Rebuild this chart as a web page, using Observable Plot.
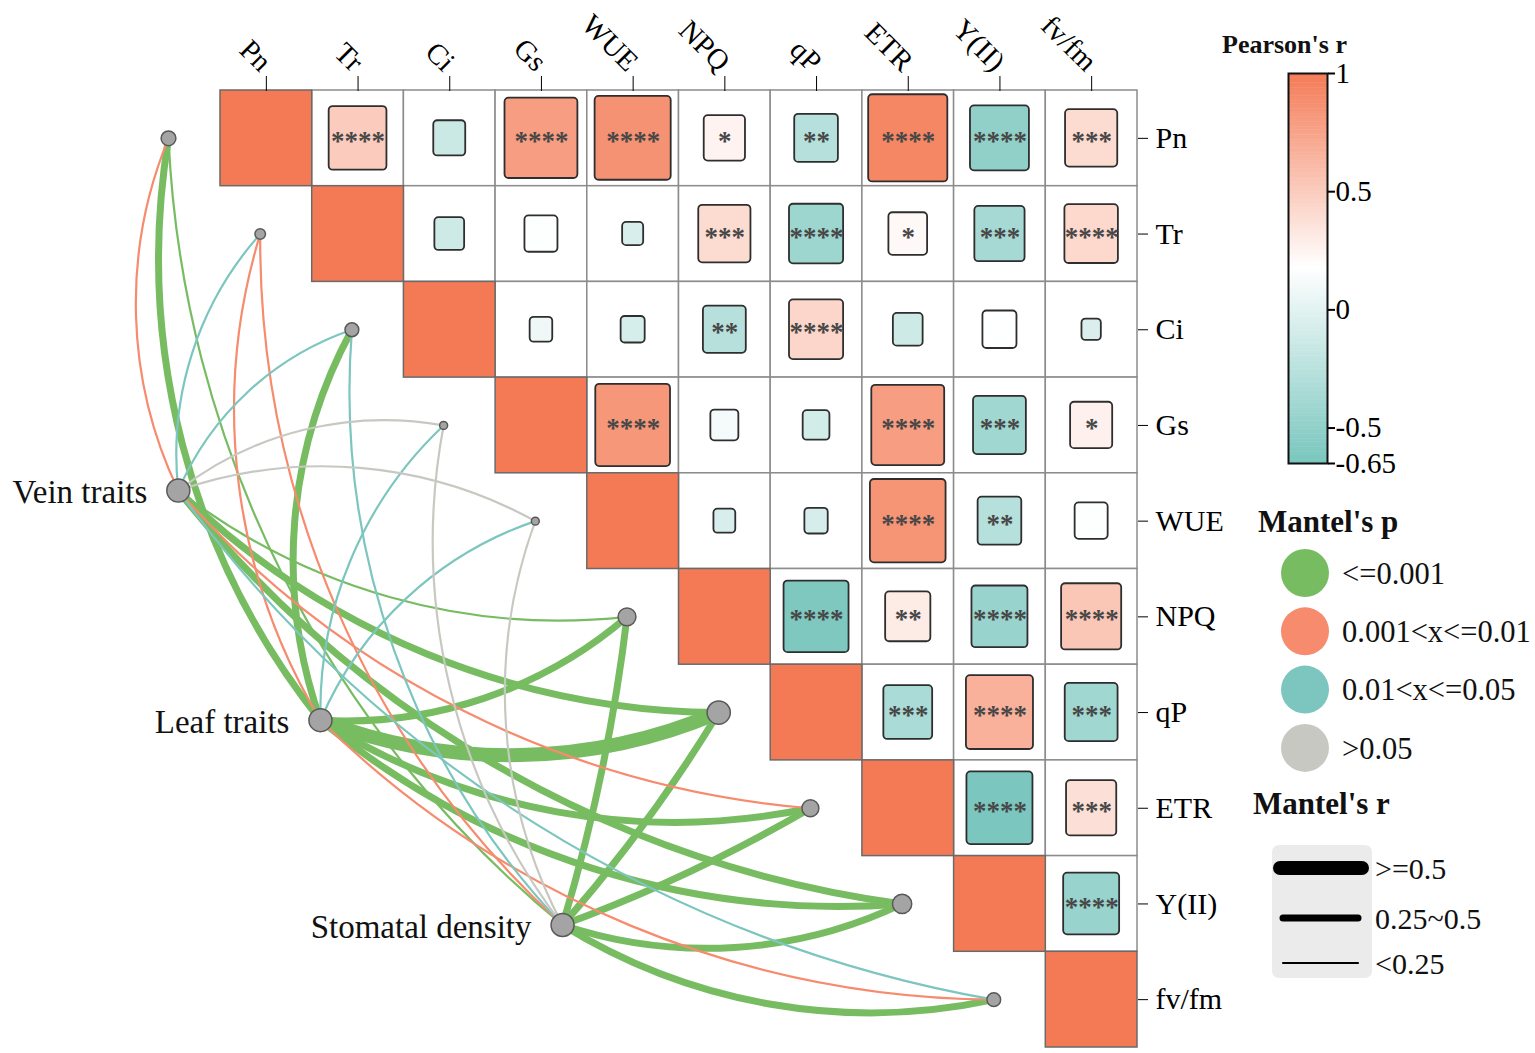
<!DOCTYPE html>
<html><head><meta charset="utf-8">
<script src="https://cdn.jsdelivr.net/npm/d3@7"></script>
<script src="https://cdn.jsdelivr.net/npm/@observablehq/plot@0.6"></script>
<style>
html,body{margin:0;padding:0;background:#fff;}
#wrap{position:relative;width:1535px;height:1053px;font-family:"Liberation Serif",serif;overflow:hidden;}
#main{position:absolute;left:0;top:0;}
#cbar{position:absolute;left:1240px;top:0;}
#cbarTitle{position:absolute;left:1222px;top:30px;font-size:26px;line-height:30px;font-weight:bold;color:#111;}
#mleg{position:absolute;left:1240px;top:490px;}
</style></head><body>
<div id="wrap"><div id="main"></div><div id="cbarTitle">Pearson's r</div><div id="cbar"></div><div id="mleg"></div></div>
<script>
// ---------------- DATA ----------------
const vars = ["Pn","Tr","Ci","Gs","WUE","NPQ","qP","ETR","Y(II)","fv/fm"];
// upper triangle of Pearson's r: row i holds columns i+1 .. 9
const pearsonR = [
  [0.49,-0.15,0.78,0.85,0.25,-0.28,0.92,-0.51,0.40],
  [-0.13,0.16,-0.065,0.40,-0.43,0.22,-0.37,0.42],
  [0.075,-0.085,-0.27,0.43,-0.13,0.17,-0.055],
  [0.82,0.115,-0.105,0.78,-0.41,0.26],
  [-0.07,-0.08,0.84,-0.28,0.16],
  [-0.62,0.30,-0.46,0.53],
  [-0.35,0.66,-0.41],
  [-0.64,0.37],
  [-0.46]
];
const pearsonStars = [
  ["****","","****","****","*","**","****","****","***"],
  ["","","","***","****","*","***","****"],
  ["","","**","****","","",""],
  ["****","","","****","***","*"],
  ["","","****","**",""],
  ["****","**","****","****"],
  ["***","****","***"],
  ["****","***"],
  ["****"]
];
const traitNames = ["Vein traits","Leaf traits","Stomatal density"];
// Mantel test of each trait group against each variable (order of vars)
const mantelVeinR = [0.16,0.12,0.13,0.05,0.04,0.20,0.38,0.17,0.34,0.12];
const mantelVeinP = [0.004,0.03,0.02,0.30,0.40,0.001,0.001,0.006,0.001,0.03];
const mantelLeafR = [0.36,0.15,0.40,0.12,0.11,0.42,0.62,0.38,0.36,0.16];
const mantelLeafP = [0.001,0.005,0.001,0.03,0.04,0.001,0.001,0.001,0.001,0.005];
const mantelStomR = [0.20,0.14,0.12,0.05,0.06,0.33,0.34,0.33,0.35,0.36];
const mantelStomP = [0.001,0.006,0.02,0.20,0.30,0.001,0.001,0.001,0.001,0.001];
const pClassLabels = ["<=0.001","0.001<x<=0.01","0.01<x<=0.05",">0.05"];
const rClassLabels = [">=0.5","0.25~0.5","<0.25"];
const colorTicks = [1,0.5,0,-0.5,-0.65];

// ---------------- STYLE / LAYOUT ----------------
const ORANGE = "#F47A55", TEAL = "#79C6BE";
const pColors = ["#78BC62","#F68B6E","#7CC6BF","#C8C8C3"];
const rWidths = [14,7,2.2];
const traitLayout = [[-0.46,4.18],[1.09,6.58],[3.73,8.72]]; // node positions in cell units
const endDX = -0.567;
const CELL_W = 91.7, CELL_H = 95.7;
const FONT = "'Liberation Serif', 'Times New Roman', serif";
const colorScale = {type:"linear", domain:[-0.65,0.175,1], range:[TEAL,"#ffffff",ORANGE]};

// ---------------- DERIVED TABLES ----------------
const cells = [];
pearsonR.forEach((row,i)=>row.forEach((r,k)=>cells.push({i, j:i+1+k, r, stars:pearsonStars[i][k]})));
const diag = vars.map((v,i)=>({i, r:1}));
const mantelRs = [mantelVeinR, mantelLeafR, mantelStomR];
const mantelPs = [mantelVeinP, mantelLeafP, mantelStomP];
const edges = [];
traitNames.forEach((t,g)=>vars.forEach((v,k)=>edges.push({g,k,r:mantelRs[g][k],p:mantelPs[g][k]})));
const pClassOf = p => p<=0.001?0 : p<=0.01?1 : p<=0.05?2 : 3;
const rClassOf = r => r>=0.5?0 : r>=0.25?1 : 2;
const ends = vars.map((v,k)=>({k, total: d3.sum(mantelRs, a=>a[k])}));
const half = (d, f) => Math.sqrt(Math.abs(d.r)) * f / 2;
// curve style: upper targets bend one way, lower targets the other; steep up-right lower links nearly straight
const bendGroup = e => {
  if (e.k < 5) return 0;
  const dx = (e.k + endDX - traitLayout[e.g][0]) * CELL_W;
  const dy = (traitLayout[e.g][1] - (e.k + 0.5)) * CELL_H;
  return Math.atan2(dy, dx) * 180 / Math.PI > 20 ? 2 : 1;
};
const bends = [24, -22, -5];

const linkMarks = [];
[0,1,2,3].forEach(c => [0,1,2].forEach(b => {
  linkMarks.push(Plot.arrow(edges.filter(e => pClassOf(e.p)===c && bendGroup(e)===b), {
    x1: e=>traitLayout[e.g][0], y1: e=>traitLayout[e.g][1],
    x2: e=>e.k+endDX, y2: e=>e.k+0.5,
    bend: bends[b], headLength: 0,
    stroke: pColors[c], strokeWidth: e=>rWidths[rClassOf(e.r)], strokeLinecap:"round"
  }));
}));

const main = Plot.plot({
  width: 1235, height: 1053,
  marginTop: 90, marginBottom: 6, marginLeft: 220, marginRight: 98,
  x: {domain:[0,10]},
  y: {domain:[0,10], reverse:true},
  color: colorScale,
  r: {type:"linear", domain:[0,1.4], range:[2.5,12]},
  style: {fontFamily: FONT, background:"white"},
  marks: [
    Plot.rect(cells, {x1:d=>d.j, x2:d=>d.j+1, y1:d=>d.i, y2:d=>d.i+1, fill:"white", stroke:"#8c8c8c", strokeWidth:1.5}),
    Plot.rect(diag, {x1:d=>d.i, x2:d=>d.i+1, y1:d=>d.i, y2:d=>d.i+1, fill:"r", stroke:"#6a6a6a", strokeWidth:1.5}),
    Plot.rect(cells, {
      x1:d=>d.j+0.5-half(d,0.9), x2:d=>d.j+0.5+half(d,0.9),
      y1:d=>d.i+0.5-half(d,0.95), y2:d=>d.i+0.5+half(d,0.95),
      fill:"r", stroke:"#2e2e2e", strokeWidth:1.8, rx:4
    }),
    Plot.text(cells.filter(d=>d.stars), {x:d=>d.j+0.5, y:d=>d.i+0.5, text:"stars", fontFamily:FONT, fontSize:27, fontWeight:"bold", fill:"#474747", dy:3}),
    ...linkMarks,
    Plot.dot(ends, {x:d=>d.k+endDX, y:d=>d.k+0.5, r:"total", fill:"#A4A4A4", stroke:"#595959", strokeWidth:1.5}),
    Plot.dot(traitNames, {x:(d,g)=>traitLayout[g][0], y:(d,g)=>traitLayout[g][1], r:11.5, fill:"#A4A4A4", stroke:"#595959", strokeWidth:1.5}),
    Plot.text(traitNames, {x:(d,g)=>traitLayout[g][0], y:(d,g)=>traitLayout[g][1], text:d=>d, textAnchor:"end", dx:-31, dy:2, fontFamily:FONT, fontSize:33, fill:"#111"}),
    Plot.axisX({anchor:"top", ticks:vars.map((v,i)=>i+0.5), tickFormat:d=>vars[Math.floor(d)], tickRotate:45, tickSize:15, tickPadding:9, textAnchor:"end", lineAnchor:"middle", fontFamily:FONT, fontSize:29, label:null}),
    Plot.axisY({anchor:"right", ticks:vars.map((v,i)=>i+0.5), tickFormat:d=>vars[Math.floor(d)], tickSize:10, tickPadding:8, fontFamily:FONT, fontSize:30, label:null})
  ]
});
document.getElementById("main").appendChild(main);

// ---------------- Pearson colour bar ----------------
const N = 240, step = 1.65/N;
const steps = d3.range(N).map(k => -0.65 + k*step);
const cbar = Plot.plot({
  width: 280, height: 480, marginTop: 73, marginBottom: 17, marginLeft: 48, marginRight: 193,
  x: {domain:[0,1], axis:null},
  y: {domain:[-0.65,1]},
  color: colorScale,
  style: {fontFamily: FONT},
  marks: [
    Plot.rect(steps, {x1:()=>0, x2:()=>1, y1:d=>d, y2:d=>Math.min(1,d+step*1.3), fill:d=>d}),
    Plot.frame({stroke:"#111", strokeWidth:2}),
    Plot.axisY({anchor:"right", ticks:colorTicks, tickFormat:d=>String(d), tickSize:7, tickPadding:1, fontFamily:FONT, fontSize:29, label:null, strokeWidth:2})
  ]
});
document.getElementById("cbar").appendChild(cbar);

// ---------------- Mantel legends ----------------
const svg = d3.select("#mleg").append("svg").attr("width",295).attr("height",500)
  .style("font-family", FONT);
svg.append("text").attr("x",18).attr("y",31).attr("dy","0.35em").attr("font-size",31).attr("font-weight","bold").attr("fill","#111").text("Mantel's p");
const pg = svg.selectAll("g.p").data(pClassLabels).join("g").attr("transform",(d,i)=>`translate(0,${83+i*58.3})`);
pg.append("circle").attr("cx",65).attr("cy",0).attr("r",24).attr("fill",(d,i)=>pColors[i]);
pg.append("text").attr("x",102).attr("y",0).attr("dy","0.35em").attr("font-size",30.5).attr("fill","#111").text(d=>d);
svg.append("text").attr("x",13).attr("y",313).attr("dy","0.35em").attr("font-size",31).attr("font-weight","bold").attr("fill","#111").text("Mantel's r");
svg.append("rect").attr("x",32).attr("y",355).attr("width",100).attr("height",133).attr("rx",7).attr("fill","#EBEBEB");
const rg = svg.selectAll("g.r").data(rClassLabels).join("g").attr("transform",(d,i)=>`translate(0,${[378,428,473][i]})`);
rg.append("line").attr("x1",(d,i)=>i===0?40:43).attr("x2",(d,i)=>i===0?122:118).attr("y1",0).attr("y2",0)
  .attr("stroke","#000").attr("stroke-linecap","round").attr("stroke-width",(d,i)=>rWidths[i]);
rg.append("text").attr("x",135).attr("y",0).attr("dy","0.35em").attr("font-size",30).attr("fill","#111").text(d=>d);
</script>
</body></html>
